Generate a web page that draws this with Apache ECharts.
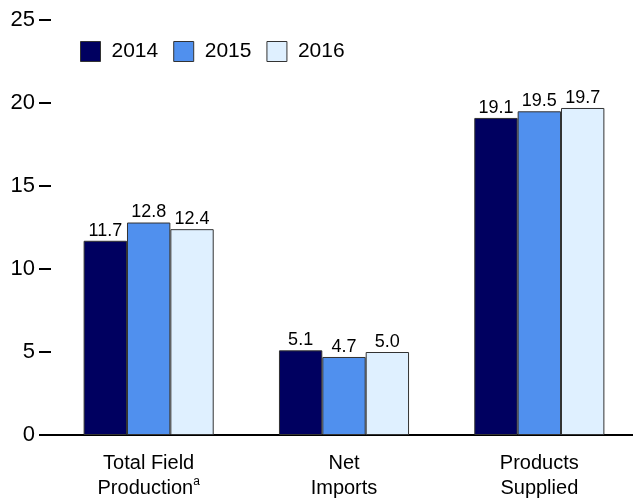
<!DOCTYPE html>
<html>
  <head>
    <meta charset="UTF-8" />
    <style>
      * {
        padding: 0;
        margin: 0;
      }
    </style>
    <script src="https://cdn.jsdelivr.net/npm/echarts@6/dist/echarts.min.js"></script>
  </head>
  <body>
    <div id="main" style="width: 633px; height: 501px;"></div>
    <script type="text/javascript">
      var categories = ['Total Field\nProduction{sup|a}', 'Net\nImports', 'Products\nSupplied'];
      var years = ['2014', '2015', '2016'];
      var values2014 = [11.7, 5.1, 19.1];
      var values2015 = [12.8, 4.7, 19.5];
      var values2016 = [12.4, 5.0, 19.7];
      var yTicks = [0, 5, 10, 15, 20, 25];

      var colors = ['#000060', '#5090ee', '#dff0ff'];
      var font = 'Liberation Sans, Arial, sans-serif';

      var myChart = echarts.init(document.getElementById('main'));

      function bar(name, data) {
        return {
          name: name,
          type: 'bar',
          data: data,
          barGap: '0%',
          barCategoryGap: '33.4%',
          itemStyle: { borderColor: '#333', borderWidth: 1 },
          label: {
            show: true,
            position: 'top',
            distance: 1,
            color: '#000',
            fontFamily: font,
            fontSize: 18,
            formatter: function (p) { return p.value.toFixed(1); }
          }
        };
      }

      var option = {
        color: colors,
        animation: false,
        textStyle: { fontFamily: font },
        legend: {
          data: years,
          left: 75,
          top: 36,
          itemWidth: 20,
          itemHeight: 20,
          itemGap: 15,
          icon: 'rect',
          itemStyle: { borderColor: '#333', borderWidth: 1 },
          textStyle: { fontSize: 21, color: '#000', fontFamily: font, padding: [0, 0, 0, 6] }
        },
        grid: {
          left: 51,
          right: -4,
          top: 20,
          bottom: 66,
          containLabel: false,
          outerBoundsMode: 'none'
        },
        xAxis: {
          type: 'category',
          data: categories,
          axisLine: { lineStyle: { color: '#000', width: 2 } },
          axisTick: { show: false },
          axisLabel: {
            interval: 0,
            margin: 16,
            color: '#000',
            fontSize: 20,
            lineHeight: 25,
            fontFamily: font,
            rich: {
              sup: { fontSize: 12, verticalAlign: 'top', lineHeight: 25, padding: [0, 0, 10, 0] }
            }
          }
        },
        yAxis: {
          type: 'value',
          min: yTicks[0],
          max: yTicks[yTicks.length - 1],
          interval: 5,
          splitLine: { show: false },
          axisLine: { show: false },
          axisTick: { show: true, length: 12, lineStyle: { color: '#000', width: 2 } },
          axisLabel: { margin: 16, color: '#000', fontSize: 22, fontFamily: font }
        },
        series: [
          bar(years[0], values2014),
          bar(years[1], values2015),
          bar(years[2], values2016)
        ]
      };

      myChart.setOption(option, true);
    </script>
  </body>
</html>
